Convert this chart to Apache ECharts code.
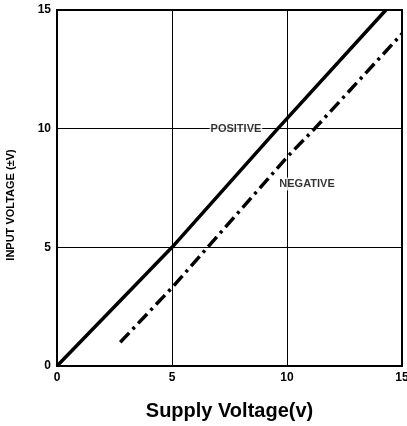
<!DOCTYPE html>
<html>
<head>
<meta charset="utf-8">
<script src="https://cdn.jsdelivr.net/npm/echarts@6/dist/echarts.min.js"></script>
<style>
  html, body { margin: 0; padding: 0; background: #fff; }
  #charts { width: 407px; height: 426px; }
</style>
</head>
<body>
<div id="charts"></div>
<script>
// tick labels
var ticks = [0, 5, 10, 15];

// curves [supply, input]
var positive = [[0, 0], [5, 5], [9.6, 10], [14.3, 15]];
var negative = [[2.75, 1], [5, 3.3], [10, 8.8], [11.2, 10], [15, 14]];

// curve labels [x, y, text]
var curveLabels = [
  [7.78, 10, "POSITIVE"],
  [10.87, 7.67, "NEGATIVE"],
];

var font = "Liberation Sans, Arial, sans-serif";

var myChart = echarts.init(document.getElementById("charts"), null, { renderer: "canvas" });

myChart.setOption({
  animation: false,
  grid: {
    left: 57,
    right: 5,
    top: 10,
    bottom: 60,
    outerBoundsMode: "none",
    containLabel: false,
    show: true,
    borderColor: "#000",
    borderWidth: 2,
  },
  xAxis: {
    type: "value",
    min: ticks[0],
    max: ticks[ticks.length - 1],
    interval: 5,
    name: "Supply Voltage(v)",
    nameLocation: "middle",
    nameGap: 35,
    nameTextStyle: { color: "#000", fontSize: 20, fontWeight: "bold", fontFamily: font },
    axisLine: { show: true, lineStyle: { color: "#000", width: 2 } },
    axisTick: { show: false },
    axisLabel: { color: "#000", fontSize: 12, fontWeight: "bold", fontFamily: font, margin: 6 },
    splitLine: { show: true, lineStyle: { color: "#000", width: 1 } },
  },
  yAxis: {
    type: "value",
    min: ticks[0],
    max: ticks[ticks.length - 1],
    interval: 5,
    name: "INPUT VOLTAGE (\u00b1V)",
    nameLocation: "middle",
    nameRotate: 90,
    nameGap: 41,
    nameTextStyle: { color: "#000", fontSize: 11, fontWeight: "bold", fontFamily: font, padding: [0, 34, 0, 0] },
    axisLine: { show: true, lineStyle: { color: "#000", width: 2 } },
    axisTick: { show: false },
    axisLabel: { color: "#000", fontSize: 12, fontWeight: "bold", fontFamily: font, margin: 6 },
    splitLine: { show: true, lineStyle: { color: "#000", width: 1 } },
  },
  series: [
    {
      name: "POSITIVE",
      type: "line",
      data: positive,
      showSymbol: false,
      lineStyle: { color: "#000", width: 3.5 },
      z: 3,
    },
    {
      name: "NEGATIVE",
      type: "line",
      data: negative,
      showSymbol: false,
      lineStyle: { color: "#000", width: 3.5, type: [13, 5, 3, 5] },
      z: 3,
    },
    {
      type: "scatter",
      data: curveLabels.map(function (d) { return { value: [d[0], d[1]], name: d[2] }; }),
      symbolSize: 0,
      silent: true,
      z: 4,
      label: {
        show: true,
        position: "inside",
        formatter: "{b}",
        color: "#000",
        fontSize: 11,
        fontWeight: "bold",
        fontFamily: font,
        backgroundColor: "#fff",
        padding: [1, 1],
      },
    },
  ],
});
</script>
</body>
</html>
